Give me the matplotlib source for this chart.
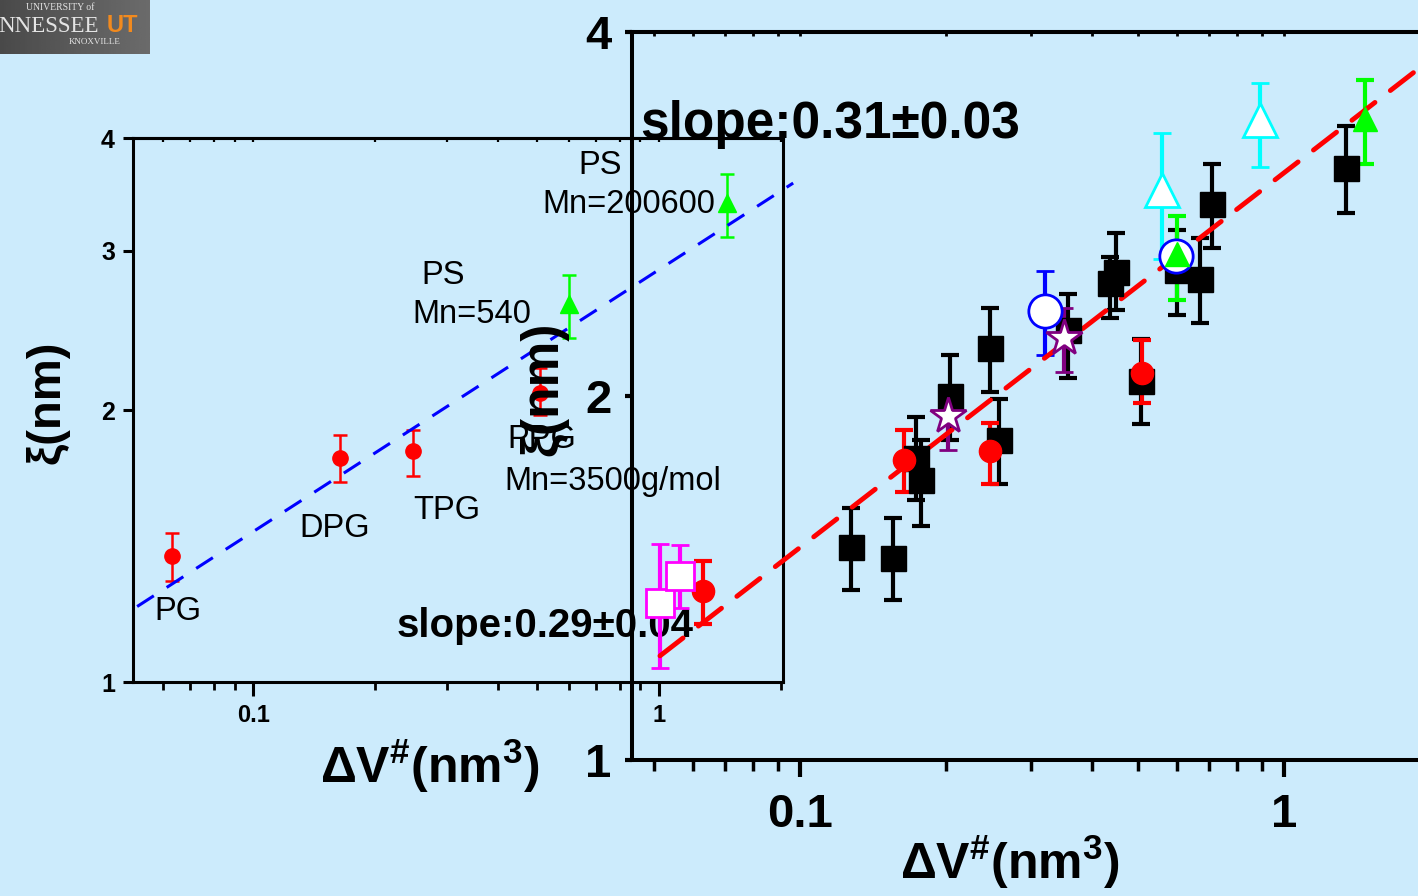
import matplotlib.pyplot as plt
import numpy as np
from matplotlib.ticker import LogLocator, NullLocator, NullFormatter

BG = '#CCEBFC'

plt.rcParams['font.family'] = ['Liberation Sans', 'DejaVu Sans']
plt.rcParams['mathtext.fontset'] = 'custom'
plt.rcParams['mathtext.rm'] = 'Liberation Sans:bold'
plt.rcParams['mathtext.it'] = 'Liberation Sans:bold'
plt.rcParams['mathtext.bf'] = 'Liberation Sans:bold'
plt.rcParams['mathtext.default'] = 'rm'

# glycols: PG, DPG, TPG, PPG (used in both panels)
glycol_names = ['PG', 'DPG', 'TPG', 'PPG']
glycol_dv = [0.063, 0.164, 0.247, 0.508]
glycol_xi = [1.38, 1.77, 1.80, 2.09]
glycol_lo = [0.085, 0.105, 0.11, 0.115]
glycol_hi = [0.08, 0.105, 0.10, 0.135]

# polystyrene, Mn=540 and Mn=200600
ps_dv = [0.60, 1.47]
ps_xi = [2.62, 3.39]
ps_lo = [0.22, 0.28]
ps_hi = [0.20, 0.26]

# other liquids (black squares)
sq_dv = [0.1275, 0.1556, 0.1736, 0.1778, 0.2041, 0.2470, 0.2577, 0.3579,
         0.4370, 0.4497, 0.5064, 0.6010, 0.6707, 0.7099, 1.343]
sq_xi = [1.500, 1.469, 1.778, 1.704, 2.000, 2.191, 1.839, 2.268,
         2.480, 2.533, 2.058, 2.542, 2.499, 2.883, 3.087]
sq_lo = [0.118, 0.113, 0.137, 0.143, 0.161, 0.176, 0.148, 0.198,
         0.160, 0.177, 0.162, 0.209, 0.201, 0.232, 0.253]
sq_hi = [0.116, 0.116, 0.144, 0.135, 0.163, 0.174, 0.150, 0.161,
         0.126, 0.195, 0.171, 0.202, 0.203, 0.228, 0.257]

mag_dv = [0.0514, 0.0565]
mag_xi = [1.349, 1.420]
mag_lo = [0.158, 0.084]
mag_hi = [0.160, 0.086]

star_dv = [0.202, 0.351]
star_xi = [1.925, 2.234]
star_lo = [0.120, 0.140]
star_hi = [0.106, 0.131]

blue_dv = [0.321, 0.598]
blue_xi = [2.352, 2.611]
blue_lo = [0.189, 0.0]
blue_hi = [0.185, 0.0]

cyan_dv = [0.560, 0.892]
cyan_xi = [2.961, 3.383]
cyan_lo = [0.365, 0.290]
cyan_hi = [0.339, 0.247]

# power-law fits xi = A * dV**slope
big_slope, big_pref = 0.31, 3.06
inset_slope, inset_pref = 0.29, 2.86

W, H = 1418, 896
fig = plt.figure(figsize=(W / 100, H / 100), dpi=100, facecolor=BG)

# ---------------- inset (left) panel ----------------
axi = fig.add_axes([133 / W, (H - 682) / H, 650 / W, 544 / H], zorder=1)
axi.patch.set_alpha(0)
axi.set_xscale('log')
axi.set_yscale('log')
axi.set_xlim(0.0506, 2.02)
axi.set_ylim(1, 4)

ekw_i = dict(elinewidth=1.8, capsize=5, capthick=1.8, linestyle='none')
axi.errorbar(glycol_dv, glycol_xi, yerr=[glycol_lo, glycol_hi], fmt='o',
             color='#FF0000', ms=11, **ekw_i)
axi.errorbar(ps_dv, ps_xi, yerr=[ps_lo, ps_hi], fmt='^',
             color='#00FF00', ms=13, **ekw_i)
xf = np.logspace(np.log10(0.0518), np.log10(2.14), 50)
axi.plot(xf, inset_pref * xf ** inset_slope, color='#0000FF', lw=2.2,
         dashes=(6.5, 5), clip_on=False)

axi.set_xticks([0.1, 1])
axi.set_xticklabels(['0.1', '1'], fontweight='bold')
axi.xaxis.set_minor_locator(LogLocator(base=10, subs=np.arange(2, 10)))
axi.xaxis.set_minor_formatter(NullFormatter())
axi.set_yticks([1, 2, 3, 4])
axi.set_yticklabels(['1', '2', '3', '4'], fontweight='bold')
axi.yaxis.set_minor_locator(NullLocator())
axi.tick_params(axis='x', which='major', direction='out', length=10, width=2.2,
                labelsize=17, pad=6)
axi.tick_params(axis='x', which='minor', direction='out', length=6, width=2.0)
axi.tick_params(axis='y', which='major', direction='out', length=7, width=2.2,
                labelsize=18, pad=6)
for s in axi.spines.values():
    s.set_linewidth(2.2)
topi = axi.secondary_xaxis('top')
topi.tick_params(which='both', direction='in', length=3, width=1.6, labeltop=False)
topi.spines['top'].set_linewidth(2.2)

axi.set_ylabel('ξ(nm)', fontsize=34, fontweight='bold')
axi.yaxis.set_label_coords(-0.097, 0.515)
axi.set_xlabel(r'ΔV$^{\#}$(nm$^{3}$)', fontsize=36, fontweight='bold')
axi.xaxis.set_label_coords(0.457, -0.100)

lab = dict(transform=axi.transAxes, fontsize=23.5, ha='center', va='center')
axi.text(0.069, 0.129, 'PG', **lab)
axi.text(0.311, 0.283, 'DPG', **lab)
axi.text(0.483, 0.316, 'TPG', **lab)
axi.text(0.576, 0.445, 'PPG', transform=axi.transAxes, fontsize=23.5,
         ha='left', va='center')
axi.text(0.572, 0.368, 'Mn=3500g/mol', transform=axi.transAxes, fontsize=23.5,
         ha='left', va='center')
axi.text(0.477, 0.748, 'PS', **lab)
axi.text(0.521, 0.675, 'Mn=540', **lab)
axi.text(0.718, 0.950, 'PS', **lab)
axi.text(0.763, 0.877, 'Mn=200600', **lab)
axi.text(0.406, 0.083, 'slope:0.29±0.04', transform=axi.transAxes,
         fontsize=29, fontweight='bold', ha='left', va='baseline')

# ---------------- main (right) panel ----------------
ax = fig.add_axes([632 / W, (H - 760) / H, 798 / W, 728 / H], zorder=2)
ax.patch.set_alpha(0)
ax.set_xscale('log')
ax.set_yscale('log')
ax.set_xlim(0.045, 2.0)
ax.set_ylim(1, 4)

ekw = dict(elinewidth=3, capsize=6.5, capthick=3, linestyle='none')
ax.errorbar(sq_dv, sq_xi, yerr=[sq_lo, sq_hi], fmt='s', color='black',
            ms=18, **ekw)
ax.errorbar(glycol_dv, glycol_xi, yerr=[glycol_lo, glycol_hi], fmt='o',
            color='#FF0000', ms=16, **ekw)
ax.errorbar(mag_dv, mag_xi, yerr=[mag_lo, mag_hi], fmt='s', color='#FF00FF',
            mfc='white', mec='#FF00FF', mew=2, ms=20, **ekw)
ax.errorbar(star_dv, star_xi, yerr=[star_lo, star_hi], fmt='*', color='#800080',
            mfc='white', mec='#800080', mew=2, ms=27, **ekw)
ax.errorbar(blue_dv, blue_xi, yerr=[blue_lo, blue_hi], fmt='o', color='#0000FF',
            mfc='white', mec='#0000FF', mew=2, ms=24, **ekw)
ax.errorbar(ps_dv, ps_xi, yerr=[ps_lo, ps_hi], fmt='^', color='#00FF00',
            ms=17, **ekw)
ax.errorbar(cyan_dv, cyan_xi, yerr=[cyan_lo, cyan_hi], fmt='^', color='#00FFFF',
            mfc='white', mec='#00FFFF', mew=2, ms=24, **ekw)
xb = np.logspace(np.log10(0.0514), np.log10(2.0), 60)
ax.plot(xb, big_pref * xb ** big_slope, color='#FF0000', lw=3.5,
        dashes=(6, 4), dash_capstyle='round')

ax.set_xticks([0.1, 1])
ax.set_xticklabels(['0.1', '1'], fontweight='bold')
ax.xaxis.set_minor_locator(LogLocator(base=10, subs=np.arange(2, 10)))
ax.xaxis.set_minor_formatter(NullFormatter())
ax.set_yticks([1, 2, 4])
ax.set_yticklabels(['1', '2', '4'], fontweight='bold')
ax.yaxis.set_minor_locator(NullLocator())
ax.tick_params(axis='x', which='major', direction='out', length=12, width=3,
               labelsize=34, pad=12)
ax.tick_params(axis='x', which='minor', direction='out', length=8, width=2.5)
ax.tick_params(axis='y', which='major', direction='out', length=5, width=3,
               labelsize=34, pad=10)
for s in ax.spines.values():
    s.set_linewidth(2.9)
top = ax.secondary_xaxis('top')
top.tick_params(which='both', direction='in', length=3, width=2, labeltop=False)
top.spines['top'].set_linewidth(2.9)

ax.set_ylabel('ξ(nm)', fontsize=37, fontweight='bold')
ax.yaxis.set_label_coords(-0.080, 0.51)
ax.set_xlabel(r'ΔV$^{\#}$(nm$^{3}$)', fontsize=36, fontweight='bold')
ax.xaxis.set_label_coords(0.474, -0.100)

ax.text(0.010, 0.854, 'slope:0.31±0.03', transform=ax.transAxes,
        fontsize=37, fontweight='bold', ha='left', va='baseline')

# ---------------- university banner ----------------
logo = fig.add_axes([0, 1 - 54 / H, 150 / W, 54 / H], zorder=3)
logo.imshow(np.linspace(0.29, 0.42, 64)[None, :], cmap='gray', vmin=0, vmax=1,
            aspect='auto', extent=[0, 1, 0, 1])
logo.set_xlim(0, 1)
logo.set_ylim(0, 1)
logo.axis('off')
logo.text(-0.01, 0.40, 'NNESSEE', family='Liberation Serif', fontsize=16.5,
          color='#E4E4E4', ha='left', va='baseline')
logo.text(0.71, 0.40, 'UT', family='Liberation Sans', fontweight='bold',
          fontsize=17, color='#F28A1E', ha='left', va='baseline')
logo.text(0.63, 0.22, 'KNOXVILLE', family='Liberation Serif', fontsize=6.5,
          color='#E4E4E4', ha='center', va='center')
logo.text(0.40, 0.86, 'UNIVERSITY of', family='Liberation Serif', fontsize=7,
          color='#E4E4E4', ha='center', va='center')

fig.savefig('out.png', dpi=100, facecolor=BG)
